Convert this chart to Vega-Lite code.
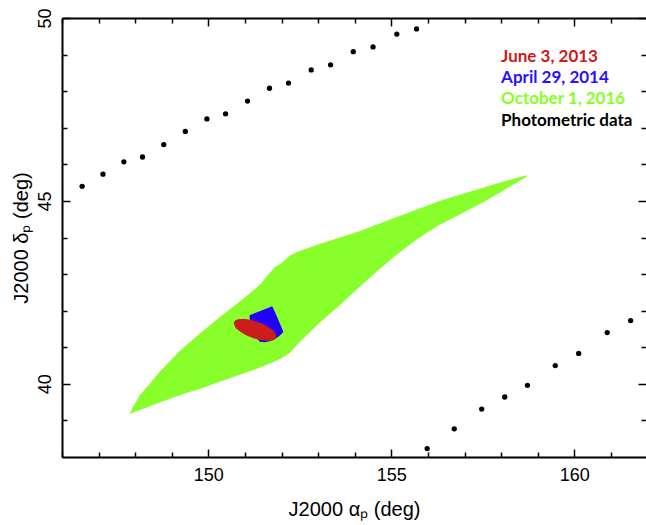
{
  "$schema": "https://vega.github.io/schema/vega-lite/v6.json",
  "autosize": {"type": "none"},
  "width": 584,
  "height": 439,
  "padding": {"left": 62, "top": 18, "right": 0, "bottom": 68},
  "background": "white",
  "config": {
    "view": {"stroke": null},
    "axis": {
      "labelFont": "Liberation Sans",
      "labelFontSize": 18,
      "labelColor": "black",
      "titleFont": "Liberation Sans",
      "titleFontSize": 20,
      "titleFontWeight": "normal",
      "titleColor": "black",
      "grid": false,
      "domainColor": "black",
      "domainWidth": 2,
      "tickColor": "black",
      "tickWidth": 1.5
    }
  },
  "resolve": {"axis": {"x": "independent", "y": "independent"}},
  "layer": [
    {
      "data": {"values": [
        {"x": 147.85, "lo": 39.18, "hi": 39.20},
        {"x": 148.12, "lo": 39.28, "hi": 39.68},
        {"x": 148.40, "lo": 39.39, "hi": 40.00},
        {"x": 148.67, "lo": 39.49, "hi": 40.33},
        {"x": 149.21, "lo": 39.69, "hi": 40.89},
        {"x": 149.76, "lo": 39.86, "hi": 41.37},
        {"x": 150.31, "lo": 40.06, "hi": 41.82},
        {"x": 150.86, "lo": 40.25, "hi": 42.25},
        {"x": 151.40, "lo": 40.44, "hi": 42.70},
        {"x": 151.81, "lo": 40.61, "hi": 43.19},
        {"x": 152.00, "lo": 40.70, "hi": 43.30},
        {"x": 152.22, "lo": 40.84, "hi": 43.50},
        {"x": 152.49, "lo": 41.14, "hi": 43.63},
        {"x": 153.04, "lo": 41.67, "hi": 43.82},
        {"x": 153.59, "lo": 42.15, "hi": 44.00},
        {"x": 154.13, "lo": 42.65, "hi": 44.17},
        {"x": 154.68, "lo": 43.14, "hi": 44.38},
        {"x": 155.23, "lo": 43.60, "hi": 44.59},
        {"x": 155.77, "lo": 44.00, "hi": 44.79},
        {"x": 156.32, "lo": 44.35, "hi": 45.00},
        {"x": 156.87, "lo": 44.63, "hi": 45.17},
        {"x": 157.41, "lo": 44.91, "hi": 45.33},
        {"x": 157.96, "lo": 45.22, "hi": 45.50},
        {"x": 158.37, "lo": 45.47, "hi": 45.61},
        {"x": 158.70, "lo": 45.66, "hi": 45.70}
      ]},
      "mark": {"type": "area", "color": "#88FF2A", "opacity": 1, "orient": "vertical"},
      "encoding": {
        "x": {"field": "x", "type": "quantitative",
          "scale": {"domain": [146, 161.96], "nice": false, "zero": false},
          "axis": {"orient": "bottom", "values": [150, 155, 160], "ticks": false, "domain": true, "labelPadding": 9, "title": "J2000 αₚ (deg)", "titlePadding": 15}},
        "y": {"field": "lo", "type": "quantitative",
          "scale": {"domain": [38, 50], "nice": false, "zero": false},
          "axis": {"orient": "left", "values": [40, 45, 50], "ticks": false, "domain": true, "labelAngle": -90, "labelAlign": "center", "labelBaseline": "alphabetic", "labelPadding": 12, "title": "J2000 δₚ (deg)", "titlePadding": 5}},
        "y2": {"field": "hi"}
      }
    },
    {
      "data": {"values": [
        {"x": 151.128, "lo": 41.791, "hi": 41.873},
        {"x": 151.265, "lo": 41.326, "hi": 41.927},
        {"x": 151.402, "lo": 41.148, "hi": 41.982},
        {"x": 151.538, "lo": 41.134, "hi": 42.037},
        {"x": 151.675, "lo": 41.161, "hi": 42.091},
        {"x": 151.743, "lo": 41.189, "hi": 42.119},
        {"x": 151.811, "lo": 41.216, "hi": 41.982},
        {"x": 151.893, "lo": 41.271, "hi": 41.791},
        {"x": 151.975, "lo": 41.339, "hi": 41.599},
        {"x": 152.044, "lo": 41.408, "hi": 41.435}
      ]},
      "mark": {"type": "area", "color": "#2200FF", "opacity": 1, "orient": "vertical"},
      "encoding": {
        "x": {"field": "x", "type": "quantitative",
          "axis": {"orient": "bottom", "values": [150, 155, 160], "labels": false, "domain": false, "ticks": true, "tickSize": -8, "title": null}},
        "y": {"field": "lo", "type": "quantitative",
          "axis": {"orient": "left", "values": [40, 45, 50], "labels": false, "domain": false, "ticks": true, "tickSize": -8, "title": null}},
        "y2": {"field": "hi"}
      }
    },
    {
      "data": {"values": [
        {"x": 150.694, "lo": 41.646, "hi": 41.662},
        {"x": 150.732, "lo": 41.555, "hi": 41.728},
        {"x": 150.814, "lo": 41.471, "hi": 41.763},
        {"x": 150.923, "lo": 41.391, "hi": 41.774},
        {"x": 151.060, "lo": 41.317, "hi": 41.766},
        {"x": 151.197, "lo": 41.263, "hi": 41.740},
        {"x": 151.333, "lo": 41.219, "hi": 41.700},
        {"x": 151.470, "lo": 41.189, "hi": 41.646},
        {"x": 151.607, "lo": 41.178, "hi": 41.577},
        {"x": 151.716, "lo": 41.183, "hi": 41.503},
        {"x": 151.798, "lo": 41.208, "hi": 41.430},
        {"x": 151.863, "lo": 41.290, "hi": 41.306}
      ]},
      "mark": {"type": "area", "color": "#CC1C1C", "opacity": 1, "orient": "vertical", "interpolate": "monotone"},
      "encoding": {
        "x": {"field": "x", "type": "quantitative",
          "axis": {"orient": "bottom", "values": [146, 147, 148, 149, 151, 152, 153, 154, 156, 157, 158, 159, 161], "labels": false, "domain": false, "ticks": true, "tickSize": -5, "title": null}},
        "y": {"field": "lo", "type": "quantitative",
          "axis": {"orient": "left", "values": [39, 41, 42, 43, 44, 46, 47, 48, 49], "labels": false, "domain": false, "ticks": true, "tickSize": -5, "title": null}},
        "y2": {"field": "hi"}
      }
    },
    {
      "data": {"values": [
        {"x": 146.55, "y": 45.40},
        {"x": 147.12, "y": 45.73},
        {"x": 147.69, "y": 46.07},
        {"x": 148.20, "y": 46.20},
        {"x": 148.78, "y": 46.54},
        {"x": 149.37, "y": 46.90},
        {"x": 149.96, "y": 47.24},
        {"x": 150.47, "y": 47.38},
        {"x": 151.07, "y": 47.73},
        {"x": 151.67, "y": 48.08},
        {"x": 152.19, "y": 48.22},
        {"x": 152.81, "y": 48.58},
        {"x": 153.34, "y": 48.72},
        {"x": 153.96, "y": 49.08},
        {"x": 154.50, "y": 49.21},
        {"x": 155.15, "y": 49.56},
        {"x": 155.69, "y": 49.70},
        {"x": 155.98, "y": 38.23},
        {"x": 156.72, "y": 38.77},
        {"x": 157.47, "y": 39.31},
        {"x": 158.10, "y": 39.64},
        {"x": 158.72, "y": 39.96},
        {"x": 159.48, "y": 40.50},
        {"x": 160.12, "y": 40.83},
        {"x": 160.90, "y": 41.40},
        {"x": 161.54, "y": 41.73}
      ]},
      "mark": {"type": "circle", "color": "black", "opacity": 1, "size": 28},
      "encoding": {
        "x": {"field": "x", "type": "quantitative",
          "axis": {"orient": "top", "values": [150, 155, 160], "labels": false, "domain": true, "ticks": true, "tickSize": -8, "title": null}},
        "y": {"field": "y", "type": "quantitative",
          "axis": {"orient": "right", "values": [40, 45, 50], "labels": false, "domain": false, "ticks": true, "tickSize": -8, "title": null}}
      }
    },
    {
      "data": {"values": [
        {"label": "June 3, 2013", "x": 158.0, "y": 48.81, "col": "#CC1A1A"},
        {"label": "April 29, 2014", "x": 158.0, "y": 48.22, "col": "#2A10FF"},
        {"label": "October 1, 2016", "x": 158.0, "y": 47.64, "col": "#88FF22"},
        {"label": "Photometric data", "x": 158.0, "y": 47.05, "col": "#000000"}
      ]},
      "mark": {"type": "text", "font": "Lato", "fontWeight": "bold", "fontSize": 17, "align": "left", "baseline": "alphabetic"},
      "encoding": {
        "x": {"field": "x", "type": "quantitative",
          "axis": {"orient": "top", "values": [146, 147, 148, 149, 151, 152, 153, 154, 156, 157, 158, 159, 161], "labels": false, "domain": false, "ticks": true, "tickSize": -5, "title": null}},
        "y": {"field": "y", "type": "quantitative",
          "axis": {"orient": "right", "values": [39, 41, 42, 43, 44, 46, 47, 48, 49], "labels": false, "domain": false, "ticks": true, "tickSize": -5, "title": null}},
        "text": {"field": "label"},
        "color": {"field": "col", "type": "nominal", "scale": null}
      }
    }
  ]
}
